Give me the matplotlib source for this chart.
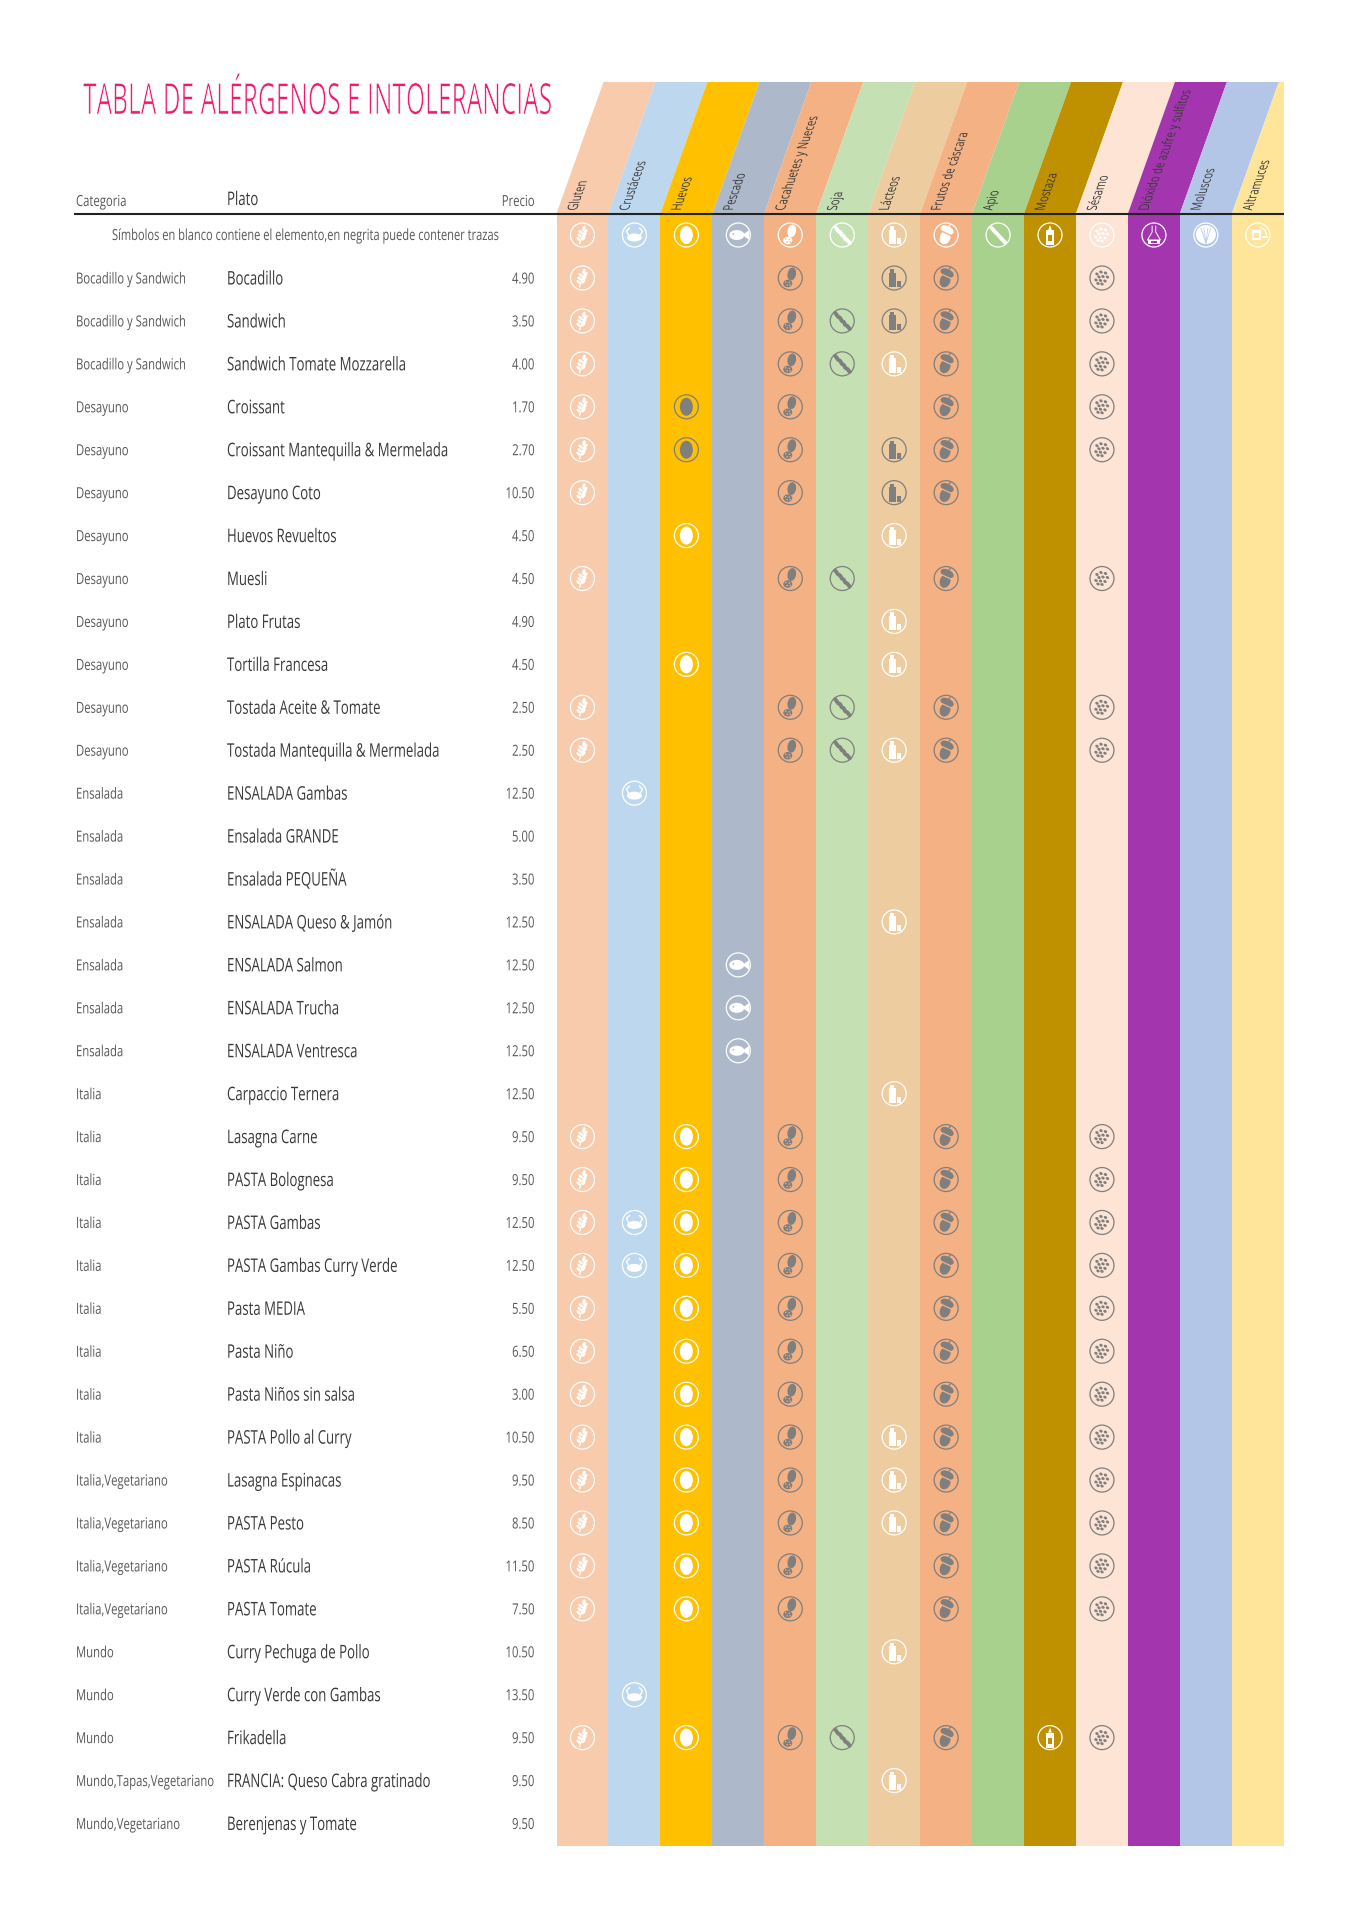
import matplotlib
matplotlib.use('Agg')
import matplotlib.pyplot as plt
from matplotlib.patches import Ellipse, Polygon, Rectangle
from matplotlib.patheffects import AbstractPathEffect
from matplotlib.transforms import Affine2D

# Data
allergens = ['Gluten', 'Crustáceos', 'Huevos', 'Pescado', 'Cacahuetes y Nueces', 'Soja', 'Lácteos',
             'Frutos de cáscara', 'Apio', 'Mostaza', 'Sésamo', 'Dióxido de azufre y sulfitos',
             'Moluscos', 'Altramuces']
band_colors = ['#F7CBAC', '#BDD7EE', '#FFC000', '#ADB9CA', '#F4B183', '#C5E0B3', '#EDCC9F',
               '#F4B183', '#A9D18E', '#BF9000', '#FDE4D5', '#A336AE', '#B4C6E7', '#FFE599']
icon_kinds = ['wheat', 'crab', 'egg', 'fish', 'peanut', 'soy', 'milk', 'acorn', 'celery',
              'mustard', 'sesame', 'flask', 'shell', 'lupin']

categories = ['Bocadillo y Sandwich'] * 3 + ['Desayuno'] * 9 + ['Ensalada'] * 7 + ['Italia'] * 9 \
    + ['Italia,Vegetariano'] * 4 + ['Mundo'] * 3 + ['Mundo,Tapas,Vegetariano', 'Mundo,Vegetariano']
dishes = ['Bocadillo', 'Sandwich', 'Sandwich Tomate Mozzarella', 'Croissant',
          'Croissant Mantequilla & Mermelada', 'Desayuno Coto', 'Huevos Revueltos', 'Muesli',
          'Plato Frutas', 'Tortilla Francesa', 'Tostada Aceite & Tomate',
          'Tostada Mantequilla & Mermelada', 'ENSALADA Gambas', 'Ensalada GRANDE',
          'Ensalada PEQUEÑA', 'ENSALADA Queso & Jamón', 'ENSALADA Salmon', 'ENSALADA Trucha',
          'ENSALADA Ventresca', 'Carpaccio Ternera', 'Lasagna Carne', 'PASTA Bolognesa',
          'PASTA Gambas', 'PASTA Gambas Curry Verde', 'Pasta MEDIA', 'Pasta Niño',
          'Pasta Niños sin salsa', 'PASTA Pollo al Curry', 'Lasagna Espinacas', 'PASTA Pesto',
          'PASTA Rúcula', 'PASTA Tomate', 'Curry Pechuga de Pollo', 'Curry Verde con Gambas',
          'Frikadella', 'FRANCIA: Queso Cabra gratinado', 'Berenjenas y Tomate']
prices = ['4.90', '3.50', '4.00', '1.70', '2.70', '10.50', '4.50', '4.50', '4.90', '4.50', '2.50',
          '2.50', '12.50', '5.00', '3.50', '12.50', '12.50', '12.50', '12.50', '12.50', '9.50',
          '9.50', '12.50', '12.50', '5.50', '6.50', '3.00', '10.50', '9.50', '8.50', '11.50',
          '7.50', '10.50', '13.50', '9.50', '9.50', '9.50']
# one letter per allergen: W contains (white), T traces (grey), . nothing
legend_marks = 'WWWWWWWWWWWWWW'
marks = ['W...T.TT..T...', 'W...TTTT..T...', 'W...TTWT..T...', 'W.T.T..T..T...',
         'W.T.T.TT..T...', 'W...T.TT......', '..W...W.......', 'W...TT.T..T...',
         '......W.......', '..W...W.......', 'W...TT.T..T...', 'W...TTWT..T...',
         '.W............', '..............', '..............', '......W.......',
         '...W..........', '...W..........', '...W..........', '......W.......',
         'W.W.T..T..T...', 'W.W.T..T..T...', 'WWW.T..T..T...', 'WWW.T..T..T...',
         'W.W.T..T..T...', 'W.W.T..T..T...', 'W.W.T..T..T...', 'W.W.T.WT..T...',
         'W.W.T.WT..T...', 'W.W.T.WT..T...', 'W.W.T..T..T...', 'W.W.T..T..T...',
         '......W.......', '.W............', 'W.W.TT.T.WT...', '......W.......',
         '..............']

# Layout in pixels
W, H = 1357, 1920
band_left, band_w = 556.5, 51.95
band_right = band_left + band_w * len(allergens)
band_top, head_y, band_bottom = 82, 213.5, 1846
slant = 47
legend_y, first_row, row_h = 235, 278, 42.93
grey = '#7F7F7F'
dark = '#3A3A3A'
mid = '#595959'
fonts = ['Open Sans', 'DejaVu Sans']


class Stretch(AbstractPathEffect):
    # no condensed font installed: set a small size and stretch the glyphs upwards
    def __init__(self, sy, shear=0, thin=0):
        super().__init__()
        self.sy = sy
        self.shear = shear
        self.thin = thin

    def draw_path(self, renderer, gc, tpath, affine, rgbFace=None):
        t = Affine2D().scale(1, self.sy).skew_deg(self.shear, 0) + affine
        renderer.draw_path(gc, tpath, t, rgbFace)
        if self.thin:
            # white edge eats into the strokes, looks like a light weight
            gc2 = renderer.new_gc()
            gc2.copy_properties(gc)
            gc2.set_foreground('white')
            gc2.set_linewidth(self.thin)
            renderer.draw_path(gc2, tpath, t, None)
            gc2.restore()


fig = plt.figure(figsize=(W / 100, H / 100), dpi=100, facecolor='white')
ax = fig.add_axes([0, 0, 1, 1])
ax.set_xlim(0, W)
ax.set_ylim(H, 0)
ax.axis('off')
renderer = fig.canvas.get_renderer()


def put(x, y, s, size, color, sx=0.74, ha='left', fit=None, thin=0):
    t = ax.text(x, y, s, fontsize=size * sx, color=color, family=fonts, ha=ha, va='baseline', zorder=6)
    if fit is not None:
        sx = sx * fit / t.get_window_extent(renderer).width
        t.set_fontsize(size * sx)
    t.set_path_effects([Stretch(1 / sx, thin=thin)])
    return t


# Bands
xs = [band_left + i * band_w for i in range(len(allergens))]
ax.bar(xs, band_bottom - head_y, width=band_w, bottom=head_y, align='edge',
       color=band_colors, linewidth=0, zorder=1)
clip = Rectangle((band_left, band_top), band_right - band_left, head_y - band_top,
                 transform=ax.transData)
for x, c, name in zip(xs, band_colors, allergens):
    p = ax.fill([x, x + slant, x + slant + band_w, x + band_w],
                [head_y, band_top, band_top, head_y], color=c, linewidth=0, zorder=1)[0]
    p.set_clip_path(clip)
    ax.text(x + 20, head_y - 3, name, fontsize=9.5 * 0.77, color=dark, rotation=70.3,
            rotation_mode='anchor', ha='left', va='baseline', family=fonts,
            zorder=6, path_effects=[Stretch(1 / 0.77, -20)])

ax.plot([74, band_right], [head_y, head_y], color='#222222', lw=1.5, zorder=5, solid_capstyle='butt')


# Icons
def ell(cx, cy, w, h, c, angle=0):
    ax.add_patch(Ellipse((cx, cy), w, h, angle=angle, facecolor=c, edgecolor='none', zorder=4))


def line(cx, cy, pts, c, lw):
    ax.plot([cx + p[0] for p in pts], [cy + p[1] for p in pts], color=c, lw=lw, zorder=4,
            solid_capstyle='round', solid_joinstyle='round')


def poly(cx, cy, pts, c):
    ax.add_patch(Polygon([(cx + p[0], cy + p[1]) for p in pts], closed=True, facecolor=c,
                         edgecolor='none', zorder=4))


def box(cx, cy, x0, y0, x1, y1, c):
    poly(cx, cy, [(x0, y0), (x1, y0), (x1, y1), (x0, y1)], c)


def draw_icon(kind, cx, cy, c, bg):
    ax.add_patch(Ellipse((cx, cy), 24, 24, facecolor='none', edgecolor=c, lw=0.9, zorder=4))
    if kind == 'wheat':
        line(cx, cy, [(1, -2), (-3, 9)], c, 0.9)
        ell(cx + 1.5, cy - 6.5, 3.4, 6, c, angle=15)
        for dy, dx in ((-3, 0.5), (0.5, -0.5), (4, -1.5)):
            ell(cx + dx - 2.4, cy + dy, 5.2, 2.8, c, angle=40)
            ell(cx + dx + 2.6, cy + dy - 0.6, 5.4, 2.8, c, angle=-50)
    elif kind == 'crab':
        ell(cx, cy + 2.5, 15, 8, c)
        line(cx, cy, [(-6, 0), (-8, -4), (-5, -7)], c, 1.0)
        line(cx, cy, [(6, 0), (8, -4), (5, -7)], c, 1.0)
    elif kind == 'egg':
        ell(cx, cy, 13, 18, c)
    elif kind == 'fish':
        ell(cx - 1.5, cy, 15, 10, c)
        poly(cx, cy, [(4, 0), (11, -5), (11, 5)], c)
        ell(cx - 5, cy - 1, 1.8, 1.8, bg)
    elif kind == 'peanut':
        ell(cx + 1.5, cy - 4, 8.5, 13, c, angle=12)
        ell(cx - 2.5, cy + 5.5, 9, 7.5, c)
        for dx, dy in [(-4.5, 4), (-1, 4.5), (-3, 7), (0, 7)]:
            ell(cx + dx, cy + dy, 1.5, 1.5, bg)
    elif kind == 'soy':
        line(cx, cy, [(-7, -8), (-4, -4), (-2, -3), (-0.5, 0), (1.5, 1), (3, 4), (5, 5), (7.5, 8)], c, 2.8)
    elif kind == 'milk':
        box(cx, cy, -5.5, -5.5, 2, 9, c)
        box(cx, cy, -3.8, -9, 0.3, -5.5, c)
        box(cx, cy, 3.2, 3, 7.2, 9, c)
    elif kind == 'acorn':
        ell(cx - 1, cy + 2.5, 10.5, 14, c, angle=20)
        ell(cx + 1, cy - 5, 14, 8, c, angle=25)
        line(cx, cy, [(-7, -5), (7, 1.5)], bg, 0.9)
        line(cx, cy, [(3, -9), (4.5, -10.5)], c, 0.9)
    elif kind == 'celery':
        line(cx, cy, [(-7, -7.5), (7, 7.5)], c, 2.8)
    elif kind == 'mustard':
        poly(cx, cy, [(0, -10), (-1.8, -5), (1.8, -5)], c)
        box(cx, cy, -4, -5, 4, 10, c)
        box(cx, cy, -2.3, 0, 2.3, 6, bg)
    elif kind == 'sesame':
        for dx, dy in [(-5, -4), (-1, -6), (3.5, -5), (-3, -1), (1, -1.5), (5.5, -1),
                       (-6, 2), (-1.5, 2.5), (3, 3), (0, 6), (-4, 5.5)]:
            ell(cx + dx, cy + dy, 3.5, 2.8, c, angle=30)
    elif kind == 'flask':
        line(cx, cy, [(-1.8, -9), (-1.8, -3), (-6.5, 5), (6.5, 5), (1.8, -3), (1.8, -9)], c, 0.7)
        box(cx, cy, -6, 5, 6, 9, c)
        box(cx, cy, -3, 6, 3, 8, bg)
    elif kind == 'shell':
        ell(cx, cy - 0.5, 20, 19, c)
        for dx in (-5, -2, 2, 5):
            line(cx, cy, [(0, 8), (dx, -7)], bg, 0.5)
    elif kind == 'lupin':
        box(cx, cy, -5.5, -5, 3, 5, c)
        box(cx, cy, -3.5, -2.5, 1, 2.5, bg)
        line(cx, cy, [(2, -8), (7, -5), (9, 0)], c, 0.9)
        line(cx, cy, [(5, 2), (9, 2)], c, 1.4)


def draw_row(y, row_marks):
    for i, m in enumerate(row_marks):
        if m != '.':
            draw_icon(icon_kinds[i], xs[i] + band_w / 2, y, 'white' if m == 'W' else grey, band_colors[i])


# Header text
put(83, 114, 'TABLA DE ALÉRGENOS E INTOLERANCIAS', 31, '#EE1C6F', fit=470, thin=0.45)
put(76, 206, 'Categoria', 11, mid)
put(227, 205, 'Plato', 13.5, dark, sx=0.705)
put(534.5, 206, 'Precio', 11, mid, ha='right')
put(112, 240, 'Símbolos en blanco contiene el elemento,en negrita puede contener trazas', 11, mid, fit=387)
draw_row(legend_y, legend_marks)

# Table rows
for i, (cat, dish, price, row_marks) in enumerate(zip(categories, dishes, prices, marks)):
    y = first_row + i * row_h
    put(76, y + 5.5, cat, 11, mid)
    put(227, y + 6.5, dish, 13.5, dark, sx=0.705)
    put(534.5, y + 5.5, price, 11, mid, ha='right')
    draw_row(y, row_marks)

fig.savefig('out.png', dpi=100, facecolor='white')
